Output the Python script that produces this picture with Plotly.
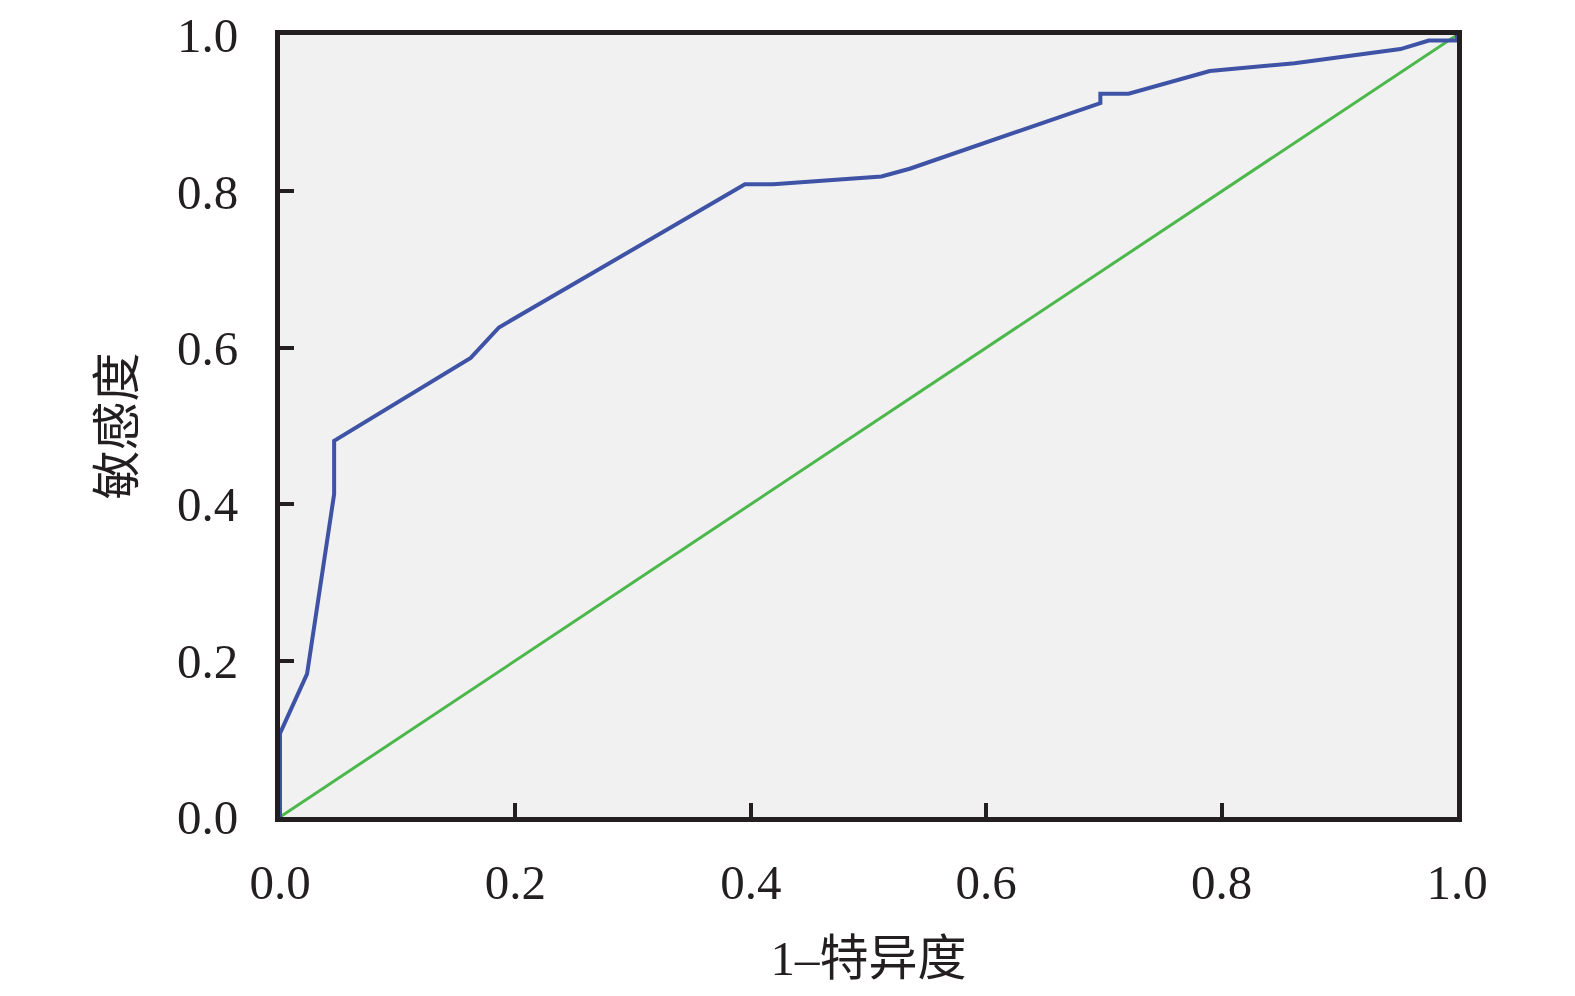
import plotly.graph_objects as go

# ROC curve data (1 - specificity, sensitivity)
fpr = [0.0, 0.0, 0.023, 0.046, 0.046, 0.162, 0.186, 0.395, 0.419, 0.511, 0.535,
       0.697, 0.697, 0.721, 0.790, 0.862, 0.952, 0.976, 1.0, 1.0]
tpr = [0.0, 0.107, 0.183, 0.413, 0.481, 0.587, 0.626, 0.809, 0.809, 0.819, 0.829,
       0.913, 0.925, 0.925, 0.954, 0.964, 0.982, 0.993, 0.993, 1.0]
ref_x = [0.0, 1.0]
ref_y = [0.0, 1.0]
tick_vals = [0.0, 0.2, 0.4, 0.6, 0.8, 1.0]
tick_text = ["0.0", "0.2", "0.4", "0.6", "0.8", "1.0"]

font_family = "Liberation Serif, Noto Sans CJK SC, serif"

fig = go.Figure()
fig.add_trace(go.Scatter(x=ref_x, y=ref_y, mode="lines",
                         line=dict(color="#4cb84c", width=3),
                         cliponaxis=False, showlegend=False, hoverinfo="skip"))
fig.add_trace(go.Scatter(x=fpr, y=tpr, mode="lines",
                         line=dict(color="#3f53a6", width=4),
                         cliponaxis=False, showlegend=False))

axis_common = dict(
    range=[0, 1],
    tickvals=tick_vals,
    ticktext=tick_text,
    ticks="inside",
    ticklen=14,
    tickwidth=4,
    tickcolor="#231f20",
    showline=True,
    linecolor="#231f20",
    linewidth=5,
    mirror=True,
    showgrid=False,
    zeroline=False,
    automargin=False,
    layer="below traces",
    tickfont=dict(family=font_family, size=49, color="#231f20"),
)

fig.update_layout(
    width=1575,
    height=996,
    margin=dict(l=272, r=126, t=27, b=187),
    paper_bgcolor="white",
    plot_bgcolor="#f1f1f1",
    font=dict(family=font_family, color="#231f20"),
    xaxis=dict(**axis_common,
               ticklabelstandoff=18,
               title=dict(text="1–特异度", font=dict(family=font_family, size=49),
                          standoff=33)),
    yaxis=dict(**axis_common,
               ticklabelstandoff=27,
               title=dict(text="敏感度", font=dict(family=font_family, size=49),
                          standoff=28)),
)

fig.write_html("out.html")
